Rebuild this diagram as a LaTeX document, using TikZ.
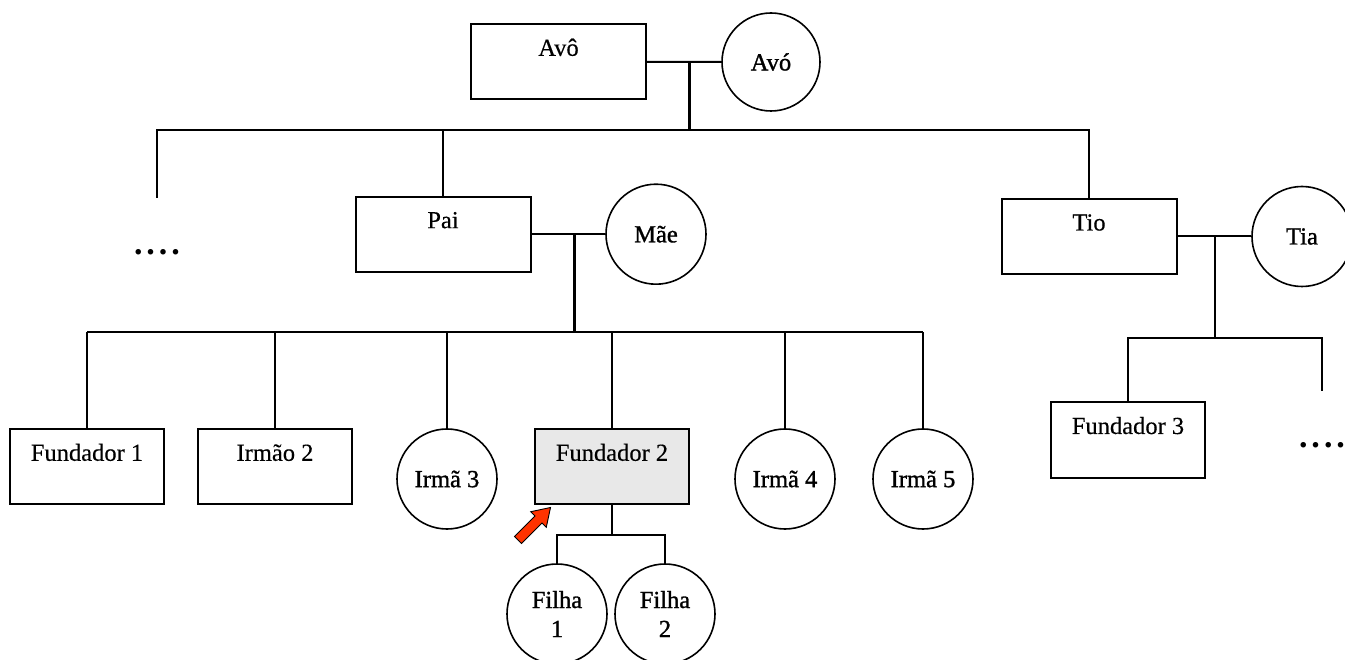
\documentclass[tikz,border=0pt]{standalone}
\usepackage{fontspec}
\setmainfont{Liberation Serif}
\newfontfamily\boxfont{Liberation Serif}[FakeBold=0.4]
\newfontfamily\circfont{Liberation Serif}[FakeBold=1.2]
\definecolor{arrowred}{RGB}{255,51,0}
\definecolor{selgray}{RGB}{232,232,232}
\begin{document}
\begin{tikzpicture}[x=1pt,y=-1pt,line width=2pt,
  every node/.style={font=\fontsize{24.5}{29}\selectfont},
  person/.style={draw,rectangle,minimum height=75pt,inner sep=0pt,line width=2pt},
  wideb/.style={person,minimum width=175pt},
  narrowb/.style={person,minimum width=154pt},
  btext/.style={label={[anchor=base,yshift=-32.5pt,inner sep=0pt,font=\fontsize{24.5}{29}\boxfont]north:#1}},
  woman/.style={draw,circle,minimum size=100pt,inner sep=0pt,line width=1.6pt,align=center,font=\fontsize{24.5}{29}\circfont},
  couple/.style={line width=3pt},
  dots/.style={font=\fontsize{34}{34}\selectfont\bfseries,inner sep=0pt}]
\useasboundingbox (0,0) rectangle (1345,660);
\clip (0,0) rectangle (1345,660);

% grandparents
\node[wideb,btext=Avô] (avo) at (558.5,61.8) {};
\node[woman,minimum size=98pt] (avoa) at (771,62) {Avó};
\coordinate (j1) at (689,61.8);
\coordinate (h1) at (689,130);
\draw (avo.east) -- (avoa.west);
\draw[couple] (j1) -- (h1);

% second generation
\node[wideb,btext=Pai] (pai) at (443,234.2) {};
\node[woman] (mae) at (656,234.2) {Mãe};
\node[wideb,btext=Tio] (tio) at (1089,236.5) {};
\node[woman] (tia) at (1302,236.5) {Tia};
\coordinate (e1) at (157,198);
\node[dots] (dl) at (157,252) {.\hspace{4pt}.\hspace{4pt}.\hspace{4pt}.};

\draw (e1) -- (e1 |- h1) -- (h1 -| tio.north) -- (tio.north);
\draw (pai.north) -- (pai.north |- h1);

% Pai + Mae children
\coordinate (j2) at (574,234.2);
\coordinate (h2) at (574,332);
\draw (pai.east) -- (mae.west);
\draw[couple] (j2) -- (h2);

\node[narrowb,btext=Fundador 1] (f1) at (87,466.8) {};
\node[narrowb,btext=Irmão 2] (i2) at (275,466.8) {};
\node[woman] (s3) at (447,479) {Irmã 3};
\node[narrowb,fill=selgray,btext=Fundador 2] (f2) at (612,466.8) {};
\node[woman] (s4) at (785,479) {Irmã 4};
\node[woman] (s5) at (923,479) {Irmã 5};

\draw (f1.north |- h2) -- (s5.north |- h2);
\foreach \n in {f1,i2,s3,f2,s4,s5} {\draw (\n.north) -- (\n.north |- h2);}

% Fundador 2 children
\node[woman] (fi1) at (557,614) {Filha\\1};
\node[woman] (fi2) at (665,614) {Filha\\2};
\coordinate (j3) at (612,535);
\draw (f2.south) -- (j3);
\draw (fi1.north) |- (j3) -| (fi2.north);

% red arrow
\begin{scope}[shift={(518,540)},rotate=45]
  \filldraw[fill=arrowred,draw=black,line width=0.9pt,line join=miter]
    (0,-5) -- (29,-5) -- (29,-11) -- (46,0) -- (29,11) -- (29,5) -- (0,5) -- cycle;
\end{scope}

% Tio + Tia children
\coordinate (j4) at (1215,236.5);
\coordinate (h4) at (1215,338);
\draw (tio.east) -- (tia.west);
\draw[couple,line width=2.4pt] (j4) -- (h4);
\node[narrowb,btext=Fundador 3] (f3) at (1128,440) {};
\coordinate (er) at (1322,391);
\draw (f3.north) |- (h4) -| (er);
\node[dots] (dr) at (1322,445) {.\hspace{4pt}.\hspace{4pt}.\hspace{4pt}.};
\end{tikzpicture}
\end{document}
